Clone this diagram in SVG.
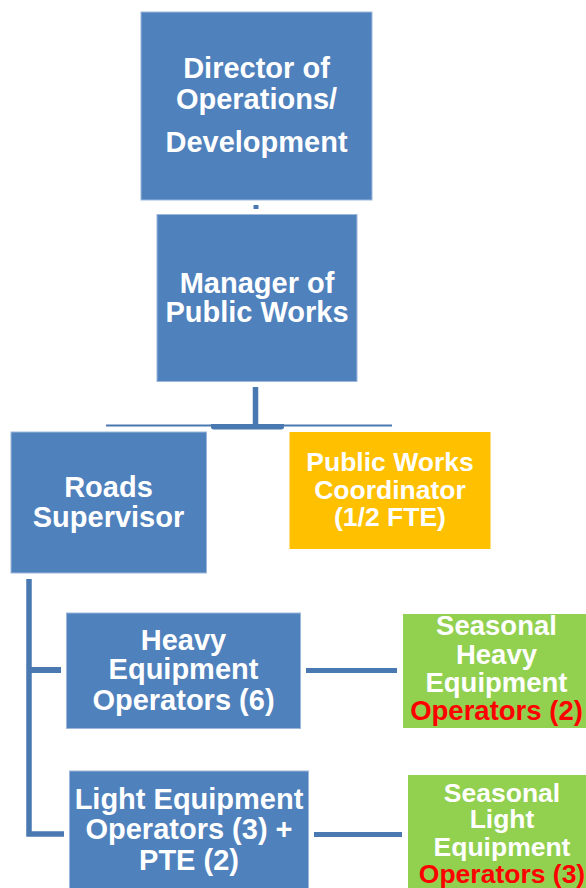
<svg xmlns="http://www.w3.org/2000/svg" width="586" height="888" viewBox="0 0 586 888">
  <style>
    .blue { fill: #4F81BD; stroke: #9DB7DC; stroke-width: 1; }
    .gold { fill: #FFC000; }
    .green { fill: #92D050; }
    .t { font-family: "Liberation Sans", Arial, sans-serif; font-weight: bold; fill: #FFFFFF; text-anchor: middle; }
    .red { fill: #FF0000; }
    .wire { stroke: #4A78B0; fill: none; }
  </style>
  <rect width="586" height="888" fill="#FFFFFF"/>

  <!-- reporting lines -->
  <g id="connectors">
    <rect x="253.5" y="205" width="5" height="4" fill="#4A78B0"/>
    <line class="wire" x1="255.5" y1="387" x2="255.5" y2="426" stroke-width="5.5"/>
    <line class="wire" x1="106" y1="425.5" x2="392" y2="425.5" stroke-width="2"/>
    <path d="M211 424 H284 V427 Q284 429.5 281 429.5 H214 Q211 429.5 211 427 Z" fill="#4A78B0"/>
    <path class="wire" d="M29 579 V834 H64" stroke-width="5.5"/>
    <line class="wire" x1="29" y1="670" x2="61" y2="670" stroke-width="6"/>
    <line class="wire" x1="306" y1="670.5" x2="397" y2="670.5" stroke-width="5"/>
    <line class="wire" x1="314" y1="834.5" x2="402" y2="834.5" stroke-width="5"/>
  </g>

  <g id="director">
    <rect class="blue" x="141" y="12" width="231" height="188"/>
    <text class="t" font-size="29" x="256.5"><tspan x="256.5" y="78">Director of</tspan><tspan x="256.5" y="109">Operations/</tspan><tspan x="256.5" y="152">Development</tspan></text>
  </g>

  <g id="manager">
    <rect class="blue" x="157" y="214.5" width="200" height="167"/>
    <text class="t" font-size="29"><tspan x="257" y="293">Manager of</tspan><tspan x="257" y="322">Public Works</tspan></text>
  </g>

  <g id="roads">
    <rect class="blue" x="11" y="432" width="195.5" height="141"/>
    <text class="t" font-size="29"><tspan x="108.5" y="497">Roads</tspan><tspan x="108.5" y="527">Supervisor</tspan></text>
  </g>

  <g id="coordinator">
    <rect class="gold" x="289.5" y="432" width="201" height="117"/>
    <text class="t" font-size="26.5"><tspan x="390" y="471">Public Works</tspan><tspan x="390" y="499">Coordinator</tspan><tspan x="390" y="526">(1/2 FTE)</tspan></text>
  </g>

  <g id="heavy">
    <rect class="blue" x="66.5" y="613" width="234" height="115.5"/>
    <text class="t" font-size="29"><tspan x="183.5" y="650">Heavy</tspan><tspan x="183.5" y="679">Equipment</tspan><tspan x="183.5" y="710">Operators (6)</tspan></text>
  </g>

  <g id="light">
    <rect class="blue" x="69.5" y="771" width="239" height="125"/>
    <text class="t" font-size="29"><tspan x="189" y="809">Light Equipment</tspan><tspan x="189" y="839">Operators (3) +</tspan><tspan x="189" y="870">PTE (2)</tspan></text>
  </g>

  <g id="seasonal-heavy">
    <rect class="green" x="403" y="614" width="190" height="114"/>
    <text class="t" font-size="27.5"><tspan x="496.5" y="635">Seasonal</tspan><tspan x="496.5" y="664">Heavy</tspan><tspan x="496.5" y="692">Equipment</tspan><tspan class="red" x="496.5" y="720">Operators (2)</tspan></text>
  </g>

  <g id="seasonal-light">
    <rect class="green" x="408" y="775" width="190" height="120"/>
    <text class="t" font-size="26.5"><tspan x="502" y="802">Seasonal</tspan><tspan x="502" y="828">Light</tspan><tspan x="502" y="856">Equipment</tspan><tspan class="red" x="502" y="883">Operators (3)</tspan></text>
  </g>
</svg>
